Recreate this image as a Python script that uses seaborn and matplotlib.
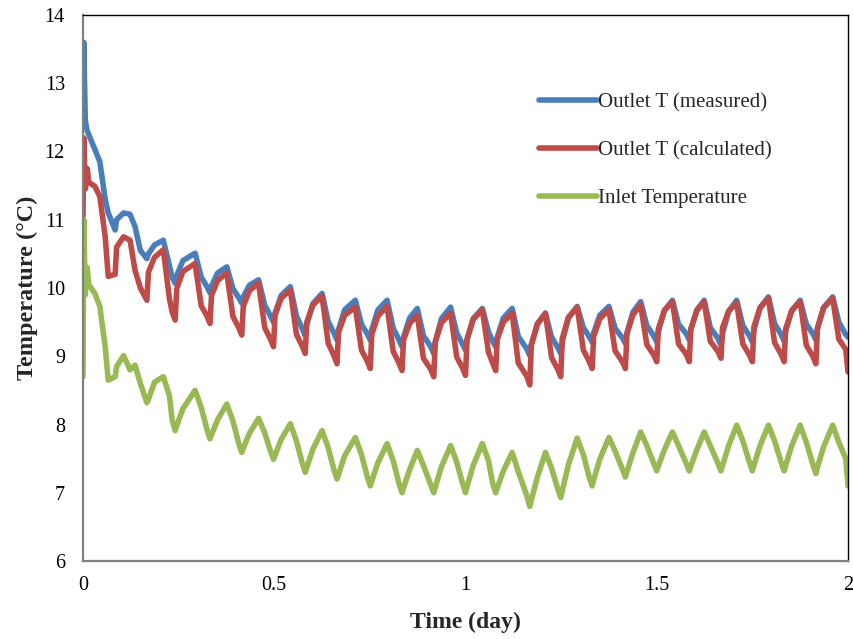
import numpy as np
import pandas as pd
import matplotlib
matplotlib.use("Agg")
import matplotlib.pyplot as plt
import seaborn as sns

# Time axis (days) shared by the three temperature records
days = [
    0.000, 0.002, 0.006, 0.011, 0.015, 0.031, 0.044, 0.058, 0.066, 0.084, 0.088, 0.106, 0.123, 0.136, 0.150,
    0.167, 0.171, 0.187, 0.210, 0.226, 0.233,
    0.241, 0.245, 0.261, 0.293, 0.309, 0.324,
    0.332, 0.336, 0.352, 0.376, 0.392, 0.407,
    0.415, 0.419, 0.435, 0.459, 0.475, 0.490,
    0.498, 0.502, 0.518, 0.542, 0.558, 0.573,
    0.581, 0.585, 0.601, 0.625, 0.641, 0.656,
    0.664, 0.668, 0.684, 0.712, 0.728, 0.743,
    0.751, 0.755, 0.771, 0.795, 0.811, 0.826,
    0.834, 0.838, 0.854, 0.874, 0.890, 0.909,
    0.917, 0.921, 0.937, 0.961, 0.977, 0.992,
    1.000, 1.004, 1.020, 1.044, 1.060, 1.071,
    1.079, 1.083, 1.099, 1.122, 1.138, 1.160,
    1.168, 1.172, 1.188, 1.209, 1.225, 1.241,
    1.249, 1.253, 1.269, 1.292, 1.308, 1.323,
    1.331, 1.335, 1.351, 1.375, 1.391, 1.410,
    1.418, 1.422, 1.438, 1.458, 1.474, 1.492,
    1.500, 1.504, 1.520, 1.541, 1.557, 1.577,
    1.585, 1.589, 1.605, 1.624, 1.640, 1.660,
    1.668, 1.672, 1.688, 1.709, 1.725, 1.742,
    1.750, 1.754, 1.770, 1.792, 1.808, 1.825,
    1.833, 1.837, 1.853, 1.875, 1.891, 1.908,
    1.916, 1.920, 1.936, 1.960, 1.976, 1.994, 2.000,
]

outlet_measured = [
    12.60, 13.60, 12.45, 12.30, 12.25, 12.03, 11.85, 11.30, 11.10, 10.85, 11.00, 11.10, 11.08, 10.90, 10.55,
    10.43, 10.50, 10.63, 10.70, 10.32, 10.16,
    10.07, 10.18, 10.40, 10.51, 10.16, 10.02,
    9.93, 10.03, 10.22, 10.31, 9.99, 9.86,
    9.78, 9.87, 10.04, 10.12, 9.75, 9.59,
    9.50, 9.63, 9.89, 10.02, 9.59, 9.41,
    9.30, 9.46, 9.77, 9.92, 9.51, 9.34,
    9.24, 9.39, 9.68, 9.82, 9.47, 9.33,
    9.24, 9.39, 9.68, 9.82, 9.41, 9.24,
    9.14, 9.28, 9.56, 9.70, 9.30, 9.14,
    9.04, 9.21, 9.55, 9.72, 9.34, 9.18,
    9.09, 9.24, 9.55, 9.70, 9.36, 9.22,
    9.14, 9.28, 9.56, 9.70, 9.29, 9.11,
    9.01, 9.17, 9.48, 9.63, 9.28, 9.13,
    9.04, 9.21, 9.56, 9.73, 9.42, 9.29,
    9.21, 9.34, 9.60, 9.73, 9.41, 9.27,
    9.19, 9.34, 9.65, 9.80, 9.45, 9.30,
    9.21, 9.36, 9.67, 9.82, 9.47, 9.33,
    9.24, 9.39, 9.68, 9.82, 9.42, 9.26,
    9.16, 9.33, 9.66, 9.82, 9.45, 9.30,
    9.21, 9.38, 9.71, 9.87, 9.48, 9.32,
    9.22, 9.37, 9.67, 9.82, 9.47, 9.33,
    9.24, 9.40, 9.71, 9.87, 9.50, 9.32, 9.28,
]

outlet_calculated = [
    11.05, 12.20, 11.45, 11.75, 11.55, 11.49, 11.34, 10.75, 10.17, 10.20, 10.60, 10.75, 10.70, 10.26, 10.00,
    9.82, 10.23, 10.45, 10.56, 9.84, 9.65,
    9.53, 9.99, 10.24, 10.36, 9.74, 9.59,
    9.48, 9.89, 10.11, 10.22, 9.58, 9.42,
    9.31, 9.73, 9.96, 10.07, 9.42, 9.25,
    9.14, 9.60, 9.85, 9.97, 9.32, 9.15,
    9.04, 9.50, 9.75, 9.88, 9.19, 9.01,
    8.89, 9.35, 9.60, 9.72, 9.09, 8.93,
    8.82, 9.32, 9.59, 9.73, 9.07, 8.90,
    8.79, 9.24, 9.48, 9.60, 8.97, 8.81,
    8.70, 9.21, 9.49, 9.63, 8.99, 8.83,
    8.72, 9.25, 9.54, 9.68, 9.06, 8.90,
    8.79, 9.25, 9.50, 9.63, 8.90, 8.71,
    8.58, 9.16, 9.47, 9.63, 8.98, 8.81,
    8.70, 9.26, 9.57, 9.72, 9.09, 8.93,
    8.82, 9.29, 9.55, 9.68, 9.08, 8.92,
    8.82, 9.33, 9.61, 9.75, 9.17, 9.02,
    8.92, 9.40, 9.67, 9.80, 9.18, 9.03,
    8.92, 9.40, 9.67, 9.80, 9.22, 9.07,
    8.97, 9.42, 9.66, 9.78, 9.18, 9.02,
    8.92, 9.43, 9.71, 9.85, 9.20, 9.03,
    8.92, 9.40, 9.67, 9.80, 9.16, 9.00,
    8.89, 9.41, 9.71, 9.85, 9.25, 9.10, 8.77,
]

inlet_temperature = [
    8.70, 11.00, 9.90, 10.30, 10.05, 9.92, 9.73, 9.14, 8.65, 8.70, 8.85, 9.01, 8.80, 8.87, 8.60,
    8.32, 8.37, 8.62, 8.70, 8.42, 8.07,
    7.91, 7.98, 8.23, 8.50, 8.25, 7.93,
    7.79, 7.85, 8.07, 8.30, 8.05, 7.73,
    7.59, 7.65, 7.87, 8.09, 7.88, 7.61,
    7.49, 7.55, 7.78, 8.01, 7.76, 7.44,
    7.30, 7.37, 7.64, 7.91, 7.66, 7.34,
    7.20, 7.27, 7.54, 7.81, 7.56, 7.24,
    7.10, 7.17, 7.44, 7.72, 7.47, 7.14,
    7.00, 7.07, 7.34, 7.62, 7.40, 7.12,
    7.00, 7.08, 7.38, 7.69, 7.45, 7.14,
    7.00, 7.09, 7.40, 7.72, 7.47, 7.14,
    7.00, 7.07, 7.32, 7.59, 7.31, 6.96,
    6.80, 6.89, 7.23, 7.59, 7.36, 7.06,
    6.93, 7.03, 7.41, 7.80, 7.56, 7.24,
    7.10, 7.19, 7.49, 7.81, 7.61, 7.35,
    7.23, 7.31, 7.59, 7.89, 7.69, 7.43,
    7.32, 7.39, 7.63, 7.89, 7.69, 7.43,
    7.32, 7.39, 7.63, 7.89, 7.69, 7.43,
    7.32, 7.40, 7.69, 7.99, 7.76, 7.45,
    7.32, 7.40, 7.69, 7.99, 7.76, 7.45,
    7.32, 7.40, 7.69, 7.99, 7.74, 7.42,
    7.28, 7.37, 7.67, 7.99, 7.74, 7.50, 7.10,
]

series_names = ["Outlet T (measured)", "Outlet T (calculated)", "Inlet Temperature"]
series_colors = ["#4A7EBB", "#BE4B48", "#98B954"]
x_ticks = [0, 0.5, 1, 1.5, 2]
x_tick_labels = ["0", "0.5", "1", "1.5", "2"]
y_ticks = [6, 7, 8, 9, 10, 11, 12, 13, 14]

frames = []
for name, vals in zip(series_names, [outlet_measured, outlet_calculated, inlet_temperature]):
    frames.append(pd.DataFrame({"day": days, "temp": vals, "series": name}))
df = pd.concat(frames, ignore_index=True)

sns.set_theme(style="white")
plt.rcParams["font.family"] = ["Liberation Serif", "DejaVu Serif"]

fig = plt.figure(figsize=(8.54, 6.39), dpi=100)
ax = fig.add_axes([83 / 854, 1 - 561 / 639, (848 - 83) / 854, (561 - 15) / 639])

sns.lineplot(
    data=df, x="day", y="temp", hue="series", hue_order=series_names,
    palette=series_colors, linewidth=4.0, sort=False, estimator=None, ax=ax,
    solid_joinstyle="round", solid_capstyle="round",
)

ax.set_xlim(0, 2)
ax.set_ylim(6, 14)
ax.set_xticks(x_ticks)
ax.set_xticklabels(x_tick_labels)
ax.set_yticks(y_ticks)
ax.tick_params(axis="both", length=0, labelsize=14.5, colors="black")
ax.tick_params(axis="y", pad=13)
ax.tick_params(axis="x", pad=11)

for side in ["left", "bottom"]:
    ax.spines[side].set_color("#808080")
    ax.spines[side].set_linewidth(1.6)
for side in ["top", "right"]:
    ax.spines[side].set_color("black")
    ax.spines[side].set_linewidth(1.0)

ax.set_xlabel("Time (day)", fontsize=17, fontweight="bold", labelpad=12)
ax.set_ylabel("Temperature (°C)", fontsize=17.5, fontweight="bold", labelpad=5)

leg = ax.legend(
    loc="upper left", bbox_to_anchor=(0.583, 0.877), frameon=False,
    fontsize=15, handlelength=2.75, handletextpad=0.05, labelspacing=1.36, borderpad=0,
)
for line in leg.get_lines():
    line.set_linewidth(4.0)

fig.savefig("out.png", dpi=100)
